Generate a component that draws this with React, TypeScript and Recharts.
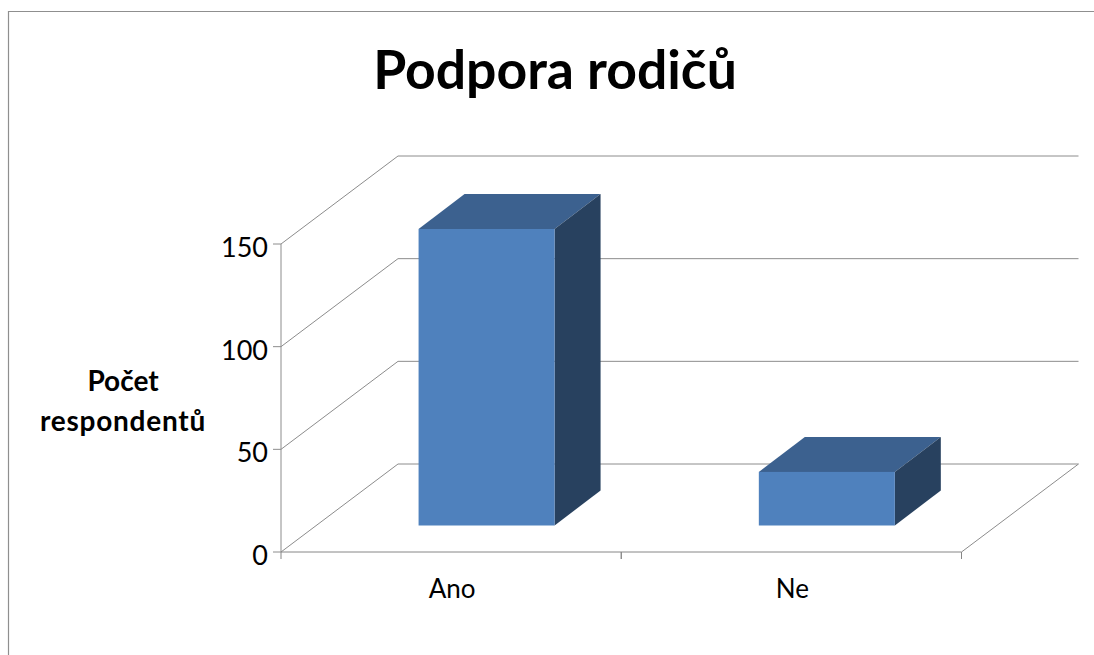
import React from "react";
import { BarChart, Bar, XAxis, YAxis, CartesianGrid } from "recharts";

const categories = ["Ano", "Ne"];
const respondents = [144.4, 26.1];
const yTicks = [0, 50, 100, 150];
const chartTitle = "Podpora rodičů";
const yAxisLines = ["Počet", "respondentů"];

const rows = categories.map((name, i) => ({ name, value: respondents[i] }));

const W = 1094;
const H = 655;
const LEFT = 281;
const RIGHT = 961.5;
const TOP = 244;
const BOTTOM = 552;
const DX = 117;
const DY = 88;
const BAR_DX = 46;
const BAR_DY = 35;
const SHIFT_X = (DX - BAR_DX) / 2;
const SHIFT_Y = (DY - BAR_DY) / 2;
const GRID = "#8c8c8c";
const AXIS = "#868686";
const FONT = "Lato, sans-serif";

const WallLine = (props: any) => {
  const { y1: y } = props;
  const isFloor = Math.abs(y - BOTTOM) < 1;
  return (
    <g>
      <path
        d={`M${LEFT},${y}L${LEFT + DX},${y - DY}H${RIGHT + DX}`}
        fill="none"
        stroke={GRID}
        strokeWidth={1}
      />
      {isFloor ? (
        <path d={`M${RIGHT},${y}L${RIGHT + DX},${y - DY}`} fill="none" stroke={GRID} strokeWidth={1} />
      ) : null}
    </g>
  );
};

const YTick = (props: any) => {
  const { y, payload } = props;
  return (
    <g>
      <path d={`M${LEFT - 8},${y}H${LEFT}`} fill="none" stroke={GRID} strokeWidth={1} />
      <text x={268} y={y + 13} textAnchor="end" fontFamily={FONT} fontSize={27} fill="#000">
        {payload.value}
      </text>
    </g>
  );
};

const XTick = (props: any) => {
  const { x, payload } = props;
  const half = (RIGHT - LEFT) / categories.length / 2;
  return (
    <g>
      <path d={`M${x - half},${BOTTOM}v7M${x + half},${BOTTOM}v7`} stroke={AXIS} strokeWidth={1} fill="none" />
      <text x={x + 1} y={598} textAnchor="middle" fontFamily={FONT} fontSize={26} fill="#000">
        {payload.value}
      </text>
    </g>
  );
};

const Box = (props: any) => {
  const { x, y, width, height } = props;
  const l = x + SHIFT_X;
  const r = l + width;
  const t = y - SHIFT_Y;
  const b = t + height;
  return (
    <g>
      <path d={`M${l},${t}L${l + BAR_DX},${t - BAR_DY}H${r + BAR_DX}L${r},${t}Z`} fill="#3C618F" />
      <path d={`M${r},${t}L${r + BAR_DX},${t - BAR_DY}V${b - BAR_DY}L${r},${b}Z`} fill="#28415F" />
      <rect x={l} y={t} width={width} height={height} fill="#4F81BD" />
    </g>
  );
};

export default function App() {
  return (
    <div style={{ position: "absolute", left: 0, top: 0, width: W, height: H, background: "#fff" }}>
      <BarChart
        width={W}
        height={H}
        data={rows}
        barCategoryGap="30%"
        margin={{ top: TOP, right: W - RIGHT, bottom: H - BOTTOM - 40, left: LEFT - 60 }}
      >
        <path d={`M${W},11.5H8.5V${H}`} fill="none" stroke="#8f8f8f" strokeWidth={1.2} />
        <text x={555} y={89} textAnchor="middle" fontFamily={FONT} fontWeight={700} fontSize={53.5} fill="#000">
          {chartTitle}
        </text>
        <text textAnchor="middle" fontFamily={FONT} fontWeight={700} fontSize={28} fill="#000">
          <tspan x={123} y={391}>{yAxisLines[0]}</tspan>
          <tspan x={123} y={431} letterSpacing={0.75}>{yAxisLines[1]}</tspan>
        </text>
        <CartesianGrid vertical={false} horizontal={WallLine} />
        <YAxis
          type="number"
          domain={[0, 150]}
          ticks={yTicks}
          width={60}
          interval={0}
          axisLine={{ stroke: GRID, strokeWidth: 1 }}
          tickLine={false}
          tick={YTick}
        />
        <XAxis
          dataKey="name"
          height={40}
          interval={0}
          axisLine={{ stroke: AXIS, strokeWidth: 1 }}
          tickLine={false}
          tick={XTick}
        />
        <Bar dataKey="value" isAnimationActive={false} shape={Box} />
      </BarChart>
    </div>
  );
}
